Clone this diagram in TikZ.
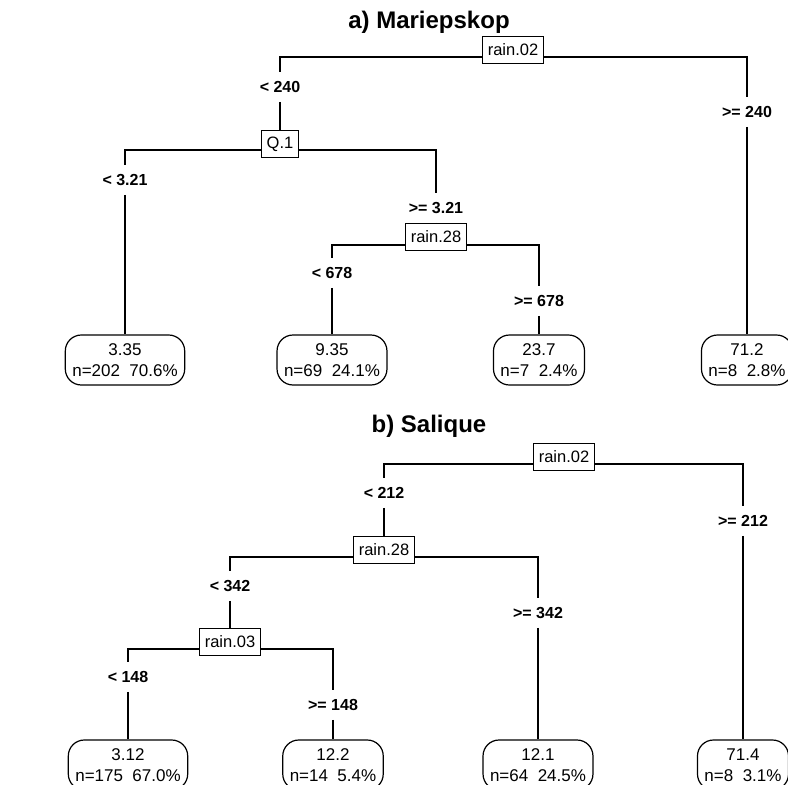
\documentclass[tikz,border=0pt]{standalone}
\usepackage{fontspec}
\setmainfont{Liberation Sans}
\begin{document}
\begin{tikzpicture}[x=1pt,y=-1pt,
  splitbox/.style={draw,fill=white,line width=1.2pt,minimum height=27pt,inner xsep=5.5pt,inner ysep=0pt,font=\fontsize{16.5}{18}\selectfont},
  leafbox/.style={draw,fill=white,line width=1.2pt,rounded corners=16pt,align=center,minimum height=50pt,inner xsep=7pt,inner ysep=2pt,font=\fontsize{17}{21}\selectfont},
  edgelbl/.style={fill=white,inner xsep=1pt,inner ysep=9pt,font=\fontsize{16}{18}\selectfont\bfseries},
  titlelbl/.style={font=\fontsize{24}{26}\selectfont\bfseries,anchor=base},
  conn/.style={line width=1.2pt}]
\useasboundingbox (0,0) rectangle (788,785);
% ---------- panel a ----------
\node[titlelbl] (ta) at (429,28) {a) Mariepskop};
\node[splitbox] (a1) at (513,50) {rain.02};
\coordinate (a1l) at (513,57);
\node[edgelbl] (la1) at (280,87) {< 240};
\node[edgelbl] (ra1) at (747,112) {>= 240};
\node[splitbox] (a2) at (280,144) {Q.1};
\coordinate (a2l) at (280,150);
\node[edgelbl] (la2) at (125,180) {< 3.21};
\node[edgelbl] (ra2) at (436,208) {>= 3.21};
\node[splitbox] (a4) at (436,237) {rain.28};
\coordinate (a4l) at (436,245);
\node[edgelbl] (la4) at (332,273) {< 678};
\node[edgelbl] (ra4) at (539,301) {>= 678};
\node[leafbox] (a3) at (125,360) {3.35\\n=202~~70.6\%};
\node[leafbox] (a5) at (332,360) {9.35\\n=69~~24.1\%};
\node[leafbox] (a6) at (539,360) {23.7\\n=7~~2.4\%};
\node[leafbox] (a8) at (747,360) {71.2\\n=8~~2.8\%};
\draw[conn] (a1.west |- a1l) -| (la1);
\draw[conn] (la1) -- (a2);
\draw[conn] (a1.east |- a1l) -| (ra1);
\draw[conn] (ra1) -- (a8);
\draw[conn] (a2.west |- a2l) -| (la2);
\draw[conn] (la2) -- (a3);
\draw[conn] (a2.east |- a2l) -| (ra2);
\draw[conn] (ra2) -- (a4);
\draw[conn] (a4.west |- a4l) -| (la4);
\draw[conn] (la4) -- (a5);
\draw[conn] (a4.east |- a4l) -| (ra4);
\draw[conn] (ra4) -- (a6);
% ---------- panel b ----------
\node[titlelbl] (tb) at (429,432) {b) Salique};
\node[splitbox] (b1) at (564,457) {rain.02};
\coordinate (b1l) at (564,464);
\node[edgelbl] (lb1) at (384,493) {< 212};
\node[edgelbl] (rb1) at (743,521) {>= 212};
\node[splitbox] (b2) at (384,550) {rain.28};
\coordinate (b2l) at (384,557);
\node[edgelbl] (lb2) at (230,586) {< 342};
\node[edgelbl] (rb2) at (538,613) {>= 342};
\node[splitbox] (b3) at (230,642) {rain.03};
\coordinate (b3l) at (230,649);
\node[edgelbl] (lb3) at (128,677) {< 148};
\node[edgelbl] (rb3) at (333,705) {>= 148};
\node[leafbox] (b4) at (128,765) {3.12\\n=175~~67.0\%};
\node[leafbox] (b5) at (333,765) {12.2\\n=14~~5.4\%};
\node[leafbox] (b6) at (538,765) {12.1\\n=64~~24.5\%};
\node[leafbox] (b9) at (743,765) {71.4\\n=8~~3.1\%};
\draw[conn] (b1.west |- b1l) -| (lb1);
\draw[conn] (lb1) -- (b2);
\draw[conn] (b1.east |- b1l) -| (rb1);
\draw[conn] (rb1) -- (b9);
\draw[conn] (b2.west |- b2l) -| (lb2);
\draw[conn] (lb2) -- (b3);
\draw[conn] (b2.east |- b2l) -| (rb2);
\draw[conn] (rb2) -- (b6);
\draw[conn] (b3.west |- b3l) -| (lb3);
\draw[conn] (lb3) -- (b4);
\draw[conn] (b3.east |- b3l) -| (rb3);
\draw[conn] (rb3) -- (b5);
\end{tikzpicture}
\end{document}
